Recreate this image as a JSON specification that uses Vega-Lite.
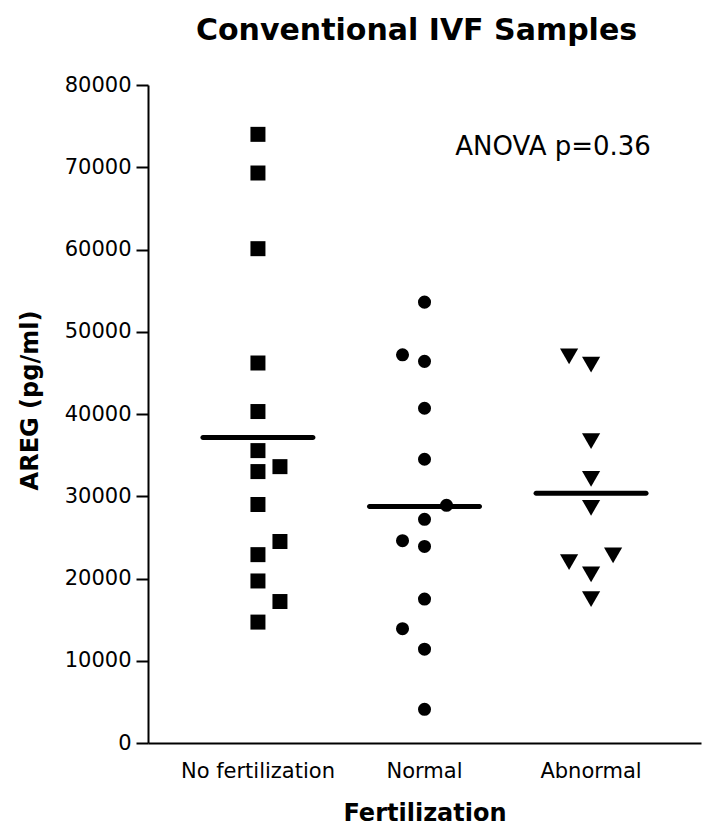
{
  "$schema": "https://vega.github.io/schema/vega-lite/v6.json",
  "autosize": {"type": "none"},
  "padding": {"left": 148, "top": 85, "right": 3, "bottom": 93},
  "width": 553,
  "height": 658,
  "background": "white",
  "config": {"view": {"stroke": null}},
  "title": {
    "text": "Conventional IVF Samples",
    "font": "DejaVu Sans",
    "fontWeight": "bold",
    "fontSize": 30,
    "color": "black",
    "frame": "group",
    "anchor": "middle",
    "baseline": "alphabetic",
    "offset": 4,
    "dx": -8
  },
  "datasets": {
    "points": [
      {"group": "No fertilization", "col": 0, "areg": 74000},
      {"group": "No fertilization", "col": 0, "areg": 69300},
      {"group": "No fertilization", "col": 0, "areg": 60100},
      {"group": "No fertilization", "col": 0, "areg": 46200},
      {"group": "No fertilization", "col": 0, "areg": 40300},
      {"group": "No fertilization", "col": 0, "areg": 35550},
      {"group": "No fertilization", "col": 0, "areg": 33000},
      {"group": "No fertilization", "col": 1, "areg": 33600},
      {"group": "No fertilization", "col": 0, "areg": 29000},
      {"group": "No fertilization", "col": 1, "areg": 24500},
      {"group": "No fertilization", "col": 0, "areg": 22900},
      {"group": "No fertilization", "col": 0, "areg": 19700},
      {"group": "No fertilization", "col": 1, "areg": 17200},
      {"group": "No fertilization", "col": 0, "areg": 14700},
      {"group": "Normal", "col": 0, "areg": 53600},
      {"group": "Normal", "col": -1, "areg": 47200},
      {"group": "Normal", "col": 0, "areg": 46400},
      {"group": "Normal", "col": 0, "areg": 40700},
      {"group": "Normal", "col": 0, "areg": 34500},
      {"group": "Normal", "col": 1, "areg": 28900},
      {"group": "Normal", "col": 0, "areg": 27200},
      {"group": "Normal", "col": -1, "areg": 24600},
      {"group": "Normal", "col": 0, "areg": 23900},
      {"group": "Normal", "col": 0, "areg": 17500},
      {"group": "Normal", "col": -1, "areg": 13900},
      {"group": "Normal", "col": 0, "areg": 11400},
      {"group": "Normal", "col": 0, "areg": 4100},
      {"group": "Abnormal", "col": -1, "areg": 47000},
      {"group": "Abnormal", "col": 0, "areg": 46000},
      {"group": "Abnormal", "col": 0, "areg": 36700},
      {"group": "Abnormal", "col": 0, "areg": 32100},
      {"group": "Abnormal", "col": 0, "areg": 28600},
      {"group": "Abnormal", "col": 1, "areg": 22800},
      {"group": "Abnormal", "col": -1, "areg": 22000},
      {"group": "Abnormal", "col": 0, "areg": 20500},
      {"group": "Abnormal", "col": 0, "areg": 17500}
    ],
    "notes": [
      {"group": "Abnormal", "areg": 71500, "label": "ANOVA p=0.36"}
    ]
  },
  "encoding": {
    "x": {
      "field": "group",
      "type": "nominal",
      "sort": ["No fertilization", "Normal", "Abnormal"],
      "scale": {"type": "band", "domain": ["No fertilization", "Normal", "Abnormal"], "paddingInner": 0, "paddingOuter": 0.16},
      "axis": {
        "domain": true,
        "domainColor": "black",
        "domainWidth": 2,
        "ticks": false,
        "tickSize": 0,
        "labelAngle": 0,
        "labelFont": "DejaVu Sans",
        "labelFontSize": 21,
        "labelColor": "black",
        "labelBaseline": "alphabetic",
        "labelPadding": 34,
        "title": "Fertilization",
        "titleFont": "DejaVu Sans",
        "titleFontWeight": "bold",
        "titleFontSize": 24,
        "titleColor": "black",
        "titleBaseline": "alphabetic",
        "titleY": 77
      }
    },
    "y": {
      "field": "areg",
      "type": "quantitative",
      "scale": {"domain": [0, 80000], "nice": false, "zero": true},
      "axis": {
        "values": [0, 10000, 20000, 30000, 40000, 50000, 60000, 70000, 80000],
        "format": "d",
        "grid": false,
        "domainColor": "black",
        "domainWidth": 2,
        "tickColor": "black",
        "tickWidth": 2,
        "tickSize": 12,
        "labelPadding": 5,
        "labelFont": "DejaVu Sans",
        "labelFontSize": 21,
        "labelColor": "black",
        "title": "AREG (pg/ml)",
        "titleFont": "DejaVu Sans",
        "titleFontWeight": "bold",
        "titleFontSize": 24,
        "titleColor": "black",
        "titleAngle": 270,
        "titleAlign": "center",
        "titleBaseline": "alphabetic",
        "titleX": -111,
        "titleY": 315
      }
    },
    "xOffset": {"field": "col", "type": "quantitative", "scale": {"domain": [-1, 1], "range": [61.3, 105.3]}}
  },
  "layer": [
    {
      "data": {"name": "points"},
      "mark": {"type": "tick", "size": 115, "thickness": 5, "color": "black", "cornerRadius": 2.5},
      "encoding": {
        "xOffset": null,
        "y": {"field": "areg", "type": "quantitative", "aggregate": "mean"}
      }
    },
    {
      "data": {"name": "points"},
      "transform": [{"filter": "datum.group === 'No fertilization'"}],
      "mark": {"type": "point", "shape": "square", "size": 225, "filled": true, "opacity": 1, "color": "black"}
    },
    {
      "data": {"name": "points"},
      "transform": [{"filter": "datum.group === 'Normal'"}],
      "mark": {"type": "point", "shape": "circle", "size": 170, "filled": true, "opacity": 1, "color": "black"}
    },
    {
      "data": {"name": "points"},
      "transform": [{"filter": "datum.group === 'Abnormal'"}],
      "mark": {"type": "point", "shape": "triangle-down", "size": 330, "filled": true, "opacity": 1, "color": "black"}
    },
    {
      "data": {"name": "notes"},
      "mark": {"type": "text", "font": "DejaVu Sans", "fontSize": 26, "color": "black", "align": "center", "baseline": "alphabetic", "dx": -38},
      "encoding": {
        "xOffset": null,
        "text": {"field": "label"}
      }
    }
  ]
}
